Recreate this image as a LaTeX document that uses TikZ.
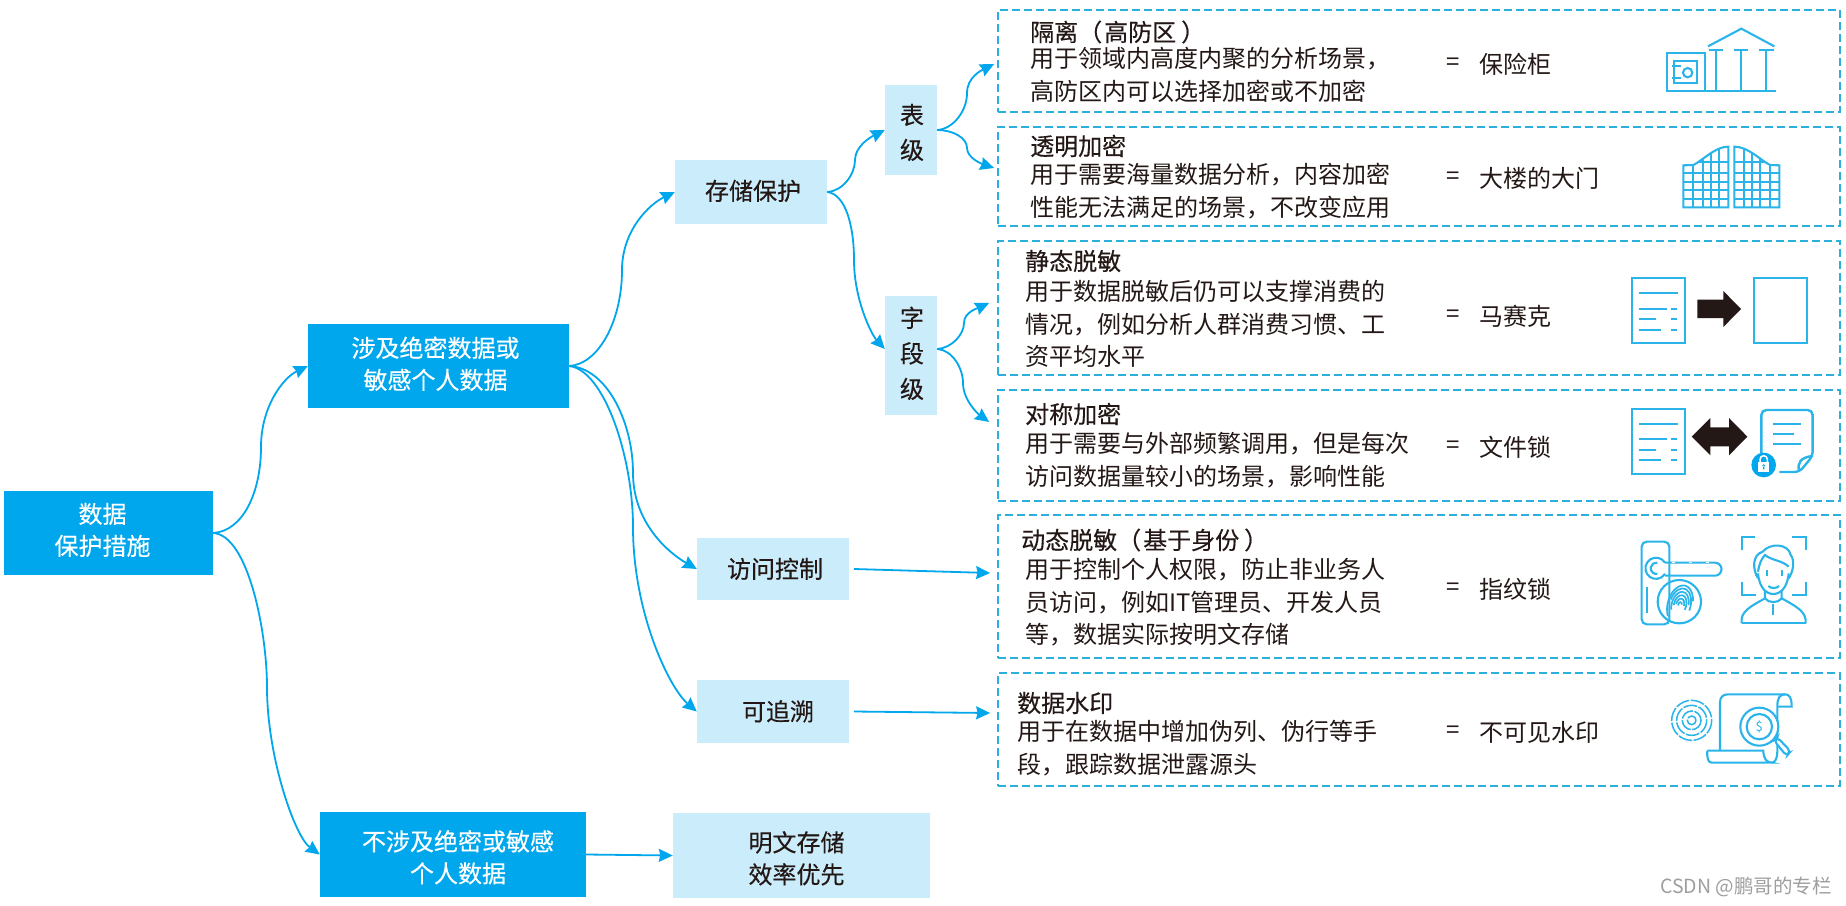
\documentclass[tikz,border=0pt]{standalone}
\usepackage{fontspec}
\setmainfont{Noto Sans CJK SC}
\newfontfamily\cjkmed[FakeBold=0.35]{Noto Sans CJK SC}
\usetikzlibrary{arrows.meta}
\definecolor{mainblue}{HTML}{00A7EC}
\definecolor{lightblue}{HTML}{CBECFA}
\definecolor{dashblue}{HTML}{2BB0DE}
\definecolor{iconblue}{HTML}{2AB4EA}
\definecolor{ink}{HTML}{231815}
\tikzset{
  x=1pt,y=-1pt,
  bluebox/.style={fill=mainblue,text=white,align=center,inner sep=0pt,font=\cjkmed\fontsize{24}{32}\selectfont},
  palebox/.style={fill=lightblue,text=ink,align=center,inner sep=0pt,font=\cjkmed\fontsize{24}{32}\selectfont},
  dashbox/.style={draw=dashblue,line width=1.8pt,dash pattern=on 8pt off 4pt,inner sep=0pt},
  title/.style={anchor=west,inner sep=0pt,text=ink,font=\cjkmed\fontsize{24}{32}\selectfont},
  body/.style={anchor=west,inner sep=0pt,text=ink,align=left,font=\fontsize{24}{32.5}\selectfont},
  conn/.style={draw=mainblue,line width=1.8pt,-{Stealth[length=14pt,width=13pt,inset=1.5pt]}},
  ico/.style={draw=iconblue,line width=2.1pt},
  icoz/.style={xshift=1600pt,x=.33333pt,y=-.33333pt},
}
% one line of box text, moved by dx to the right and dy upwards from its place
\newcommand{\sh}[3]{\smash{\makebox[0pt]{\hspace*{#1}\hspace*{#1}\raisebox{\dimexpr#2-9pt\relax}{#3}}}}
\newcommand{\doclines}[5]{%
  \draw[ico] (96,#1) rectangle (254,#1+196);
  \draw[ico] (118,#2)--(233,#2) (118,#3)--(200,#3) (213,#3)--(232,#3)
    (118,#4)--(167,#4) (213,#4)--(232,#4) (118,#5)--(183,#5) (213,#5)--(232,#5);
}
\begin{document}
\begin{tikzpicture}
\useasboundingbox[fill=white] (0,0) rectangle (1846,905);

% main boxes
\node[bluebox,minimum width=209pt,minimum height=84pt] (root) at (108.5,533) {\sh{-6pt}{3pt}{数据}\\\sh{-6pt}{3pt}{保护措施}};
\node[bluebox,minimum width=261pt,minimum height=84pt] (sens) at (438.5,366) {\sh{-3pt}{2pt}{涉及绝密数据或}\\\sh{-3pt}{2pt}{敏感个人数据}};
\node[bluebox,minimum width=266pt,minimum height=85pt] (nons) at (453,854.5) {\sh{5pt}{-3pt}{不涉及绝密或敏感}\\\sh{5pt}{-3pt}{个人数据}};
\node[palebox,minimum width=257pt,minimum height=85pt] (plain) at (801.5,855.5) {\sh{-5pt}{-3pt}{明文存储}\\\sh{-5pt}{-3pt}{效率优先}};
\node[palebox,minimum width=152pt,minimum height=64pt] (store) at (751,192) {\sh{2pt}{1pt}{存储保护}};
\node[palebox,minimum width=152pt,minimum height=62pt] (access) at (773,569) {\sh{2pt}{0pt}{访问控制}};
\node[palebox,minimum width=152pt,minimum height=63pt] (trace) at (773,711.5) {\sh{5pt}{0pt}{可追溯}};
\node[palebox,minimum width=52pt,minimum height=90pt,font=\cjkmed\fontsize{24}{35}\selectfont] (tbl) at (911,130) {\sh{1pt}{-2.5pt}{表}\\\sh{1pt}{-2.5pt}{级}};
\node[palebox,minimum width=52pt,minimum height=119pt,font=\cjkmed\fontsize{24}{35.5}\selectfont] (fld) at (911,355.5) {\sh{1pt}{2pt}{字}\\\sh{1pt}{2pt}{段}\\\sh{1pt}{2pt}{级}};

% dashed boxes
\node[dashbox,minimum width=842pt,minimum height=102pt] (b1) at (1419,61) {};
\node[dashbox,minimum width=842pt,minimum height=99pt] (b2) at (1419,176.5) {};
\node[dashbox,minimum width=842pt,minimum height=134pt] (b3) at (1419,308) {};
\node[dashbox,minimum width=842pt,minimum height=111pt] (b4) at (1419,445.5) {};
\node[dashbox,minimum width=842pt,minimum height=143pt] (b5) at (1419,586.5) {};
\node[dashbox,minimum width=842pt,minimum height=113pt] (b6) at (1419,729.5) {};

% bend points of the connectors
\coordinate (m1) at (261,447);
\coordinate (m2) at (267,687);
\coordinate (m3) at (622,270);
\coordinate (m4) at (633,473);
\coordinate (m5) at (633,527);
\coordinate (m6) at (855,160);
\coordinate (m7) at (854,260);
\coordinate (m8) at (967,93);
\coordinate (m9) at (967,148);
\coordinate (m10) at (964,323);
\coordinate (m11) at (963,383);

% connectors
\draw[conn] (root.east) .. controls +(30,-2) and +(0,45) .. (m1) .. controls +(0,-40) and +(-25,12) .. (sens.west);
\draw[conn] (root.east) .. controls +(35,2) and +(0,-55) .. (m2) .. controls +(0,70) and +(-25,-18) .. (nons.west);
\draw[conn] (sens.east) .. controls +(30,-2) and +(0,50) .. (m3) .. controls +(0,-40) and +(-25,12) .. (store.west);
\draw[conn] (sens.east) .. controls +(38,2) and +(0,-50) .. (m4) .. controls +(0,50) and +(-28,-16) .. (access.west);
\draw[conn] (sens.east) .. controls +(35,4) and +(0,-70) .. (m5) .. controls +(0,85) and +(-28,-24) .. (trace.west);
\draw[conn] (nons.east) -- (plain.west);
\draw[conn] (store.east) .. controls +(16,-1) and +(0,14) .. (m6) .. controls +(0,-14) and +(-14,7) .. (tbl.west);
\draw[conn] (store.east) .. controls +(18,2) and +(0,-35) .. (m7) .. controls +(0,40) and +(-13,-14) .. ([yshift=6.5pt]fld.west);
\draw[conn] (tbl.east) .. controls +(16,-1) and +(0,18) .. (m8) .. controls +(0,-16) and +(-12,6) .. ([xshift=-3pt,yshift=-3pt]b1.west);
\draw[conn] (tbl.east) .. controls +(16,0) and +(0,-10) .. (m9) .. controls +(0,10) and +(-12,-4) .. ([xshift=-3pt,yshift=8.5pt]b2.west);
\draw[conn] ([yshift=6.5pt]fld.east) .. controls +(15,-1) and +(0,11) .. (m10) .. controls +(0,-11) and +(-11,5) .. ([xshift=-8pt,yshift=5pt]b3.west);
\draw[conn] ([yshift=6.5pt]fld.east) .. controls +(15,1) and +(0,-15) .. (m11) .. controls +(0,17) and +(-11,-8) .. ([xshift=-8pt,yshift=23.5pt]b4.west);
\draw[conn] ([xshift=5pt]access.east) -- ([xshift=-7pt,yshift=13.5pt]b5.west);
\draw[conn] ([xshift=5pt]trace.east) -- ([xshift=-7pt,yshift=16.5pt]b6.west);

% box texts
\node[title] (t1) at (1030,32) {隔离（\kern2pt 高防区\kern5pt ）};
\node[body] (d1) at (1030,75) {用于领域内高度内聚的分析场景，\\高防区内可以选择加密或不加密};
\node[title] (t2) at (1030,146) {透明加密};
\node[body] (d2) at (1030,191) {用于需要海量数据分析，内容加密\\性能无法满足的场景，不改变应用};
\node[title] (t3) at (1025,261) {静态脱敏};
\node[body] (d3) at (1025,324) {用于数据脱敏后仍可以支撑消费的\\情况，例如分析人群消费习惯、工\\资平均水平};
\node[title] (t4) at (1025,414) {对称加密};
\node[body] (d4) at (1025,460) {用于需要与外部频繁调用，但是每次\\访问数据量较小的场景，影响性能};
\node[title] (t5) at (1021,540) {动态脱敏（\kern2pt 基于身份\kern5pt ）};
\node[body] (d5) at (1025,602.5) {用于控制个人权限，防止非业务人\\员访问，例如IT管理员、开发人员\\等，数据实际按明文存储};
\node[title] (t6) at (1017,703) {数据水印};
\node[body] (d6) at (1017,748) {用于在数据中增加伪列、伪行等手\\段，跟踪数据泄露源头};

\node[body] (e1) at (1446,64) {=};\node[body] (v1) at (1479,64) {保险柜};
\node[body] (e2) at (1446,178) {=};\node[body] (v2) at (1479,178) {大楼的大门};
\node[body] (e3) at (1446,316) {=};\node[body] (v3) at (1479,316) {马赛克};
\node[body] (e4) at (1446,447) {=};\node[body] (v4) at (1479,447) {文件锁};
\node[body] (e5) at (1446,589) {=};\node[body] (v5) at (1479,589) {指纹锁};
\node[body] (e6) at (1446,732) {=};\node[body] (v6) at (1479,732) {不可见水印};

\node[anchor=east,inner sep=0pt,text=black!38,font=\fontsize{19.5}{22}\selectfont] (wm) at (1832,887) {CSDN @鹏哥的专栏};

% icon: safe and temple
\begin{scope}[icoz]
  \draw[ico] (201,160) rectangle (314,273);
  \draw[ico] (223,183) rectangle (291,250);
  \draw[ico] (263,218) circle (14);
  \draw[ico] (216,198)--(243,198) (216,234)--(243,234);
  \draw[ico] (318,272)--(528,272);
  \draw[ico] (347,151)--(347,270) (424,151)--(424,270) (499,151)--(499,270);
  \draw[ico] (326,151)--(368,151) (403,151)--(444,151) (478,151)--(521,151);
  \draw[ico] (324,139)--(424,86)--(523,139);
  % gate
  \begin{scope}
    \clip (250,622)--(250,496)--(280,495) .. controls (310,480) and (345,440) .. (385,440)--(385,622)--cycle;
    \draw[ico] (280,440)--(280,622) (310,440)--(310,622) (333,440)--(333,622) (357,440)--(357,622);
    \draw[ico] (250,520)--(385,520) (250,545)--(385,545) (250,570)--(385,570) (250,597)--(385,597) (250,487)--(385,487);
  \end{scope}
  \draw[ico] (250,622)--(250,496)--(280,495) .. controls (310,480) and (345,440) .. (385,440)--(385,622)--cycle;
  \begin{scope}
    \clip (538,622)--(538,496)--(510,495) .. controls (480,480) and (445,440) .. (403,440)--(403,622)--cycle;
    \draw[ico] (432,440)--(432,622) (456,440)--(456,622) (480,440)--(480,622) (510,440)--(510,622);
    \draw[ico] (403,520)--(538,520) (403,545)--(538,545) (403,570)--(538,570) (403,597)--(538,597) (403,487)--(538,487);
  \end{scope}
  \draw[ico] (538,622)--(538,496)--(510,495) .. controls (480,480) and (445,440) .. (403,440)--(403,622)--cycle;
\end{scope}

% icon: documents
\begin{scope}[icoz,yshift=-250pt]
  \doclines{84}{130}{177}{208}{239}
  \fill[ink] (292,149)--(370,149)--(370,123)--(423,177)--(370,231)--(370,204)--(292,204)--cycle;
  \draw[ico] (462,84) rectangle (620,280);
  \doclines{476}{522}{568}{600}{630}
  \fill[ink] (275,560)--(331,504)--(331,532)--(387,532)--(387,504)--(442,560)--(387,616)--(387,589)--(331,589)--(331,616)--cycle;
  \draw[ico,line width=2.4pt,rounded corners=5pt] (484,615)--(484,480)--(638,480)--(638,618)--(598,666)--(538,666);
  \draw[ico,line width=2.4pt] (597,662) .. controls (592,640) and (600,622) .. (638,618);
  \draw[ico] (520,522)--(603,522) (520,552)--(582,552) (520,582)--(603,582);
  \fill[mainblue] (491,645) circle (37);
  \fill[white] (475,636) rectangle (507,666);
  \draw[white,line width=1.5pt] (480,636)--(480,628) arc[start angle=180,end angle=0,radius=3.67pt]--(502,636);
  \fill[mainblue] (491,647) circle (4.5) (489,647) rectangle (493,658);
\end{scope}

% icon: door lock and fingerprint
\begin{scope}[icoz,yshift=-510pt]
  \draw[ico,rounded corners=5pt] (125,95) rectangle (208,343);
  \draw[ico] (195,158)--(345,158) arc[start angle=90,end angle=-90,radius=6.5pt]--(195,197);
  \draw[white,line width=1pt,dash pattern=on 3pt off 14pt] (215,158)--(340,158);
  \draw[ico] (195,158) arc[start angle=32,end angle=328,radius=10.6pt];
  \draw[ico] (172,158) arc[start angle=80,end angle=280,radius=5.67pt];
  \draw[ico] (140,230)--(140,310);
  \draw[ico] (238,275) circle (65);
  \begin{scope}
    \clip (238,275) circle (56);
    \foreach \r/\s/\e in {3/20/200,6.5/0/180,10/-20/190,13.5/10/210,17/-10/170,20/20/230}
      \draw[iconblue,line width=1.7pt,rotate around={-15:(240,285)}]
        (240,285) ++(\s:{\r*0.62pt} and {\r*1pt}) arc[start angle=\s,end angle=\e,x radius={\r*0.62pt},y radius={\r*1pt}];
  \end{scope}
  % face frame
  \draw[ico] (425,120)--(425,82)--(466,82) (577,82)--(618,82)--(618,120)
    (425,215)--(425,255)--(468,255) (577,255)--(618,255)--(618,215);
  % person
  \draw[ico] (425,340)--(617,340);
  \draw[ico] (425,340) .. controls (420,305) and (450,290) .. (495,265)--(495,242);
  \draw[ico] (617,340) .. controls (620,305) and (590,290) .. (545,265)--(545,242);
  \draw[ico] (495,265) .. controls (505,280) and (535,280) .. (545,265);
  \draw[ico] (520,283)--(520,316);
  \draw[ico] (474,190) .. controls (478,235) and (500,252) .. (520,252) .. controls (540,252) and (562,235) .. (566,190);
  \draw[ico] (474,205) .. controls (458,180) and (455,135) .. (488,125) .. controls (510,98) and (565,100) .. (572,135) .. controls (585,150) and (580,185) .. (566,205);
  \draw[ico] (474,185) .. controls (478,160) and (485,145) .. (495,135) .. controls (515,152) and (545,150) .. (566,170);
  \draw[ico] (502,180)--(502,197) (545,180)--(545,197);
  \draw[ico] (505,228) .. controls (512,236) and (530,236) .. (537,228);
  % target
  \foreach \r in {60,45,28,13}
    \draw[iconblue,line width=1.5pt,dash pattern=on 14pt off 1.5pt] (275,631) circle (\r);
  % scroll
  \draw[ico] (360,722)--(360,578) .. controls (360,562) and (368,553) .. (384,553)--(555,553) .. controls (568,553) and (575,562) .. (575,590)--(532,590);
  \draw[ico] (555,553) .. controls (540,553) and (532,562) .. (532,590)--(532,725) .. controls (532,745) and (525,758) .. (515,758);
  \draw[ico] (322,722)--(490,722) .. controls (490,745) and (500,758) .. (515,758)--(335,758) .. controls (325,758) and (320,745) .. (322,722);
  \fill[white] (478,650) circle (58);
  \draw[ico] (478,650) circle (57);
  \draw[ico] (478,650) circle (38);
  \node[inner sep=0pt,text=iconblue,font=\fontsize{13}{13}\selectfont] (dollar) at (478,650) {\$};
  \draw[ico,fill=white,rounded corners=4pt] (522,692)--(532,682)--(572,724)--(560,738)--cycle;
\end{scope}
\end{tikzpicture}
\end{document}
